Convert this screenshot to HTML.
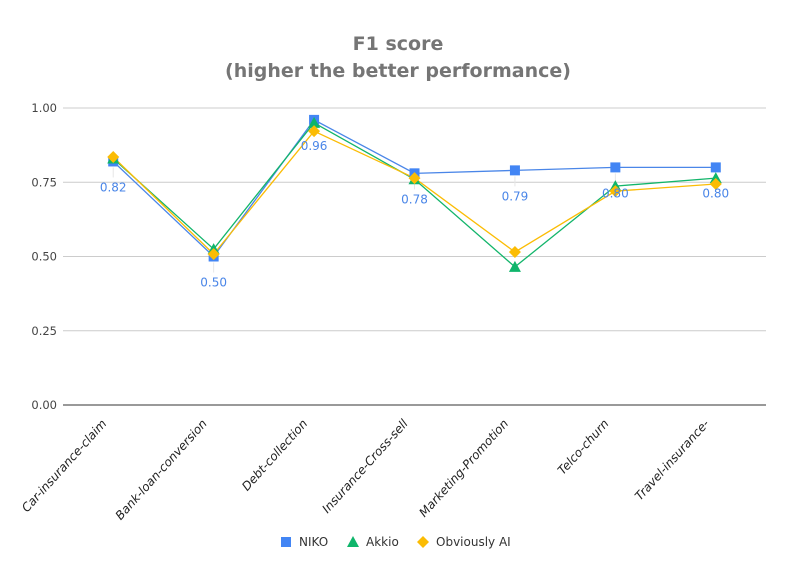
<!DOCTYPE html>
<html><head><meta charset="utf-8"><style>
html,body{margin:0;padding:0;background:#fff;}
svg{display:block;font-family:"DejaVu Sans","Liberation Sans",sans-serif;}
</style></head><body>
<svg id="chart" width="795" height="579" viewBox="0 0 795 579">
<rect width="795" height="579" fill="#fff"/>
<text x="398" y="50" text-anchor="middle" font-size="19" font-weight="bold" fill="#757575">F1 score</text>
<text x="398" y="77" text-anchor="middle" font-size="19" font-weight="bold" fill="#757575">(higher the better performance)</text>
<g id="grid"></g><g id="xlabels"></g><g id="series"></g><g id="legend"></g>
</svg>
<script>
const categories=["Car-insurance-claim","Bank-loan-conversion","Debt-collection","Insurance-Cross-sell","Marketing-Promotion","Telco-churn","Travel-insurance-"];
const niko=[0.82,0.50,0.96,0.78,0.79,0.80,0.80];
const akkio=[0.83,0.525,0.95,0.76,0.465,0.737,0.764];
const obviously=[0.835,0.508,0.922,0.764,0.515,0.72,0.744];
const yTicks=[0,0.25,0.5,0.75,1.0];
const yTickLabels=["0.00","0.25","0.50","0.75","1.00"];
const nikoLabels=["0.82","0.50","0.96","0.78","0.79","0.80","0.80"];

const NS="http://www.w3.org/2000/svg";
const L=63,R=766,T=108,B=405;
const band=(R-L)/categories.length;
function x(i){return L+band*(i+0.5);}
function y(v){return B-(B-T)*v;}
function mk(tag,attrs,parent){const e=document.createElementNS(NS,tag);for(const k in attrs)e.setAttribute(k,attrs[k]);parent.appendChild(e);return e;}
const grid=document.getElementById('grid');
yTicks.forEach((t,i)=>{
  const ln=mk('line',{x1:L,x2:R,y1:y(t),y2:y(t),stroke:i===0?'#333':'#ccc','stroke-width':1},grid);
  
  
  const tx=mk('text',{x:L-6,y:y(t)+4,'text-anchor':'end','font-size':11.5,fill:'#444'},grid);
  tx.textContent=yTickLabels[i];
  
  
});
const xl=document.getElementById('xlabels');
categories.forEach((c,i)=>{
  const ax=x(i)-6,ay=424;
  const tx=mk('text',{x:ax,y:ay,'text-anchor':'end','font-size':12,'font-style':'italic',fill:'#222',transform:`rotate(-48 ${ax} ${ay})`},xl);
  tx.textContent=c;
  
  
});
const sg=document.getElementById('series');
function line(vals,color,name){
  const p=mk('polyline',{points:vals.map((v,i)=>x(i)+','+y(v)).join(' '),fill:'none',stroke:color,'stroke-width':1.3},sg);
  
  
}
function marker(type,cx,cy,color,parent){
  let e;
  if(type==='sq')e=mk('rect',{x:cx-5,y:cy-5,width:10,height:10,fill:color},parent);
  else if(type==='tri')e=mk('polygon',{points:`${cx},${cy-6} ${cx+6},${cy+5} ${cx-6},${cy+5}`,fill:color},parent);
  else e=mk('polygon',{points:`${cx},${cy-6} ${cx+6},${cy} ${cx},${cy+6} ${cx-6},${cy}`,fill:color},parent);
  return e;
}
niko.forEach((v,i)=>{
  const ln=mk('line',{x1:x(i),x2:x(i),y1:y(v)+6,y2:y(v)+16,stroke:'#e6e6e6'},sg);
  
  
});
line(niko,'#4a86e8','niko');
line(akkio,'#13b56b','akkio');
line(obviously,'#fbbc04','obviously-ai');
niko.forEach((v,i)=>{const m=marker('sq',x(i),y(v),'#4285f4',sg);});
akkio.forEach((v,i)=>{const m=marker('tri',x(i),y(v),'#0fb56b',sg);});
obviously.forEach((v,i)=>{const m=marker('dia',x(i),y(v),'#fbbc04',sg);});
niko.forEach((v,i)=>{
  const t=mk('text',{x:x(i),y:y(v)+30,'text-anchor':'middle','font-size':12,fill:'#4a86e8'},sg);
  t.textContent=nikoLabels[i];
  
  
});
const lg=document.getElementById('legend');
const items=[["NIKO",'sq','#4285f4',286],["Akkio",'tri','#0fb56b',353],["Obviously AI",'dia','#fbbc04',423]];
items.forEach(it=>{
  const g=mk('g',{},lg);
  
  
  marker(it[1],it[3],542,it[2],g);
  const t=mk('text',{x:it[3]+13,y:546,'font-size':12,fill:'#333'},g);
  t.textContent=it[0];
});
</script>
</body></html>
